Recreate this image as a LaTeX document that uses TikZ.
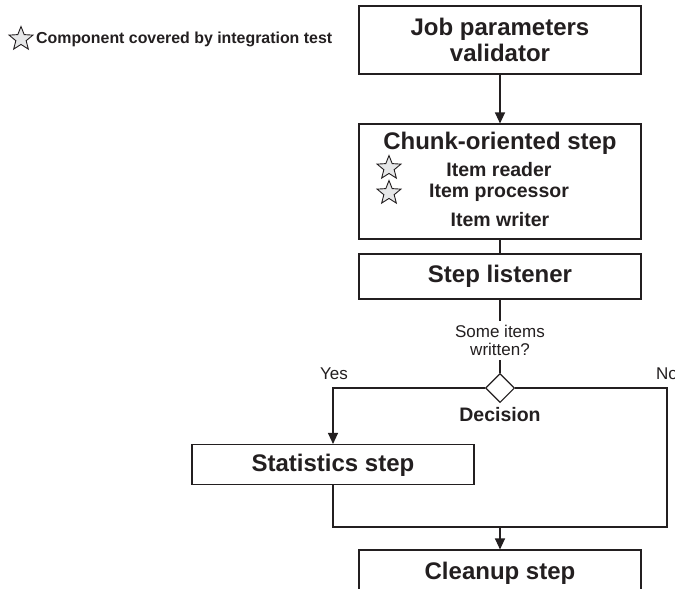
\documentclass[tikz,border=0pt]{standalone}
\usepackage{fontspec}
\setmainfont{Liberation Sans}
\usetikzlibrary{arrows.meta,shapes.geometric}
\definecolor{ink}{HTML}{231F20}
\definecolor{starfill}{HTML}{E6E7E8}
\tikzset{
  box/.style={draw=ink, line width=1.1pt, minimum width=282pt, inner sep=0pt, text=ink, align=center},
  bigtxt/.style={font=\fontsize{24}{26}\selectfont\bfseries, text=ink, align=center, inner sep=0pt},
  itemtxt/.style={font=\fontsize{19.5}{21}\selectfont\bfseries, text=ink, inner sep=0pt},
  smalltxt/.style={font=\fontsize{17}{17.5}\selectfont, text=ink, align=center, inner sep=0pt},
  starmark/.style={star, star points=5, star point ratio=2.3, minimum size=25pt, inner sep=0pt, draw=ink, line width=0.9pt, fill=starfill},
  conn/.style={draw=ink, line width=1.1pt},
  arr/.style={conn, -{Triangle[length=11pt,width=10pt]}},
}
\begin{document}
\begin{tikzpicture}[x=1pt,y=-1pt]
\clip (0,0) rectangle (675,589);
\fill[white] (0,0) rectangle (675,589);
% legend
\node[starmark] (lstar) at (21,39) {};
\node[anchor=west, font=\fontsize{15.9}{17}\selectfont\bfseries, text=ink, inner sep=0pt] (ltext) at (36,39) {Component covered by integration test};
% job parameters validator
\node[box, minimum height=68pt] (job) at (500,40) {};
\node[bigtxt] (jobtxt) at (500,40) {Job parameters\\validator};
% chunk-oriented step
\node[box, minimum height=115pt] (chunk) at (500,181.5) {};
\node[bigtxt] (chunktitle) at (500,143) {Chunk-oriented step};
\node[itemtxt] (reader) at (499,170) {Item reader};
\node[itemtxt] (processor) at (499,193) {Item processor};
\node[itemtxt] (writer) at (500,220) {Item writer};
\node[starmark] (star1) at (389,168) {};
\node[starmark] (star2) at (389,193) {};
% step listener
\node[box, minimum height=45pt] (listener) at (500,276.5) {};
\node[bigtxt] (listtxt) at (500,276.5) {Step listener};
% question and decision
\node[smalltxt, minimum height=39pt] (question) at (500,340.5) {Some items\\written?};
\node[diamond, draw=ink, line width=1.1pt, fill=white, minimum width=29pt, minimum height=29pt, inner sep=0pt] (dec) at (500,388) {};
\node[font=\fontsize{19.5}{21}\selectfont\bfseries, text=ink, inner sep=0pt] (dectxt) at (500,415) {Decision};
\node[smalltxt] (yes) at (334,374) {Yes};
\node[smalltxt, anchor=west] (no) at (656,374) {No};
% statistics step
\node[box, minimum height=40pt] (stats) at (333,464.5) {};
\node[bigtxt] (statstxt) at (333,465) {Statistics step};
% cleanup step
\node[box, minimum height=60pt] (cleanup) at (500,580) {};
\node[bigtxt] (cleantxt) at (500,573) {Cleanup step};
% connectors
\coordinate (jn) at (500,527);
\coordinate (rc) at (667,527);
\draw[arr] (job.south) -- (chunk.north);
\draw[conn] (chunk.south) -- (listener.north);
\draw[conn] (listener.south) -- (question.north);
\draw[conn] (question.south) -- (dec.north);
\draw[arr] (dec.west) -| (stats.north);
\draw[conn] (dec.east) -| (rc) -- (jn);
\draw[conn] (stats.south) |- (jn);
\draw[arr] (jn) -- (cleanup.north);
\end{tikzpicture}
\end{document}
